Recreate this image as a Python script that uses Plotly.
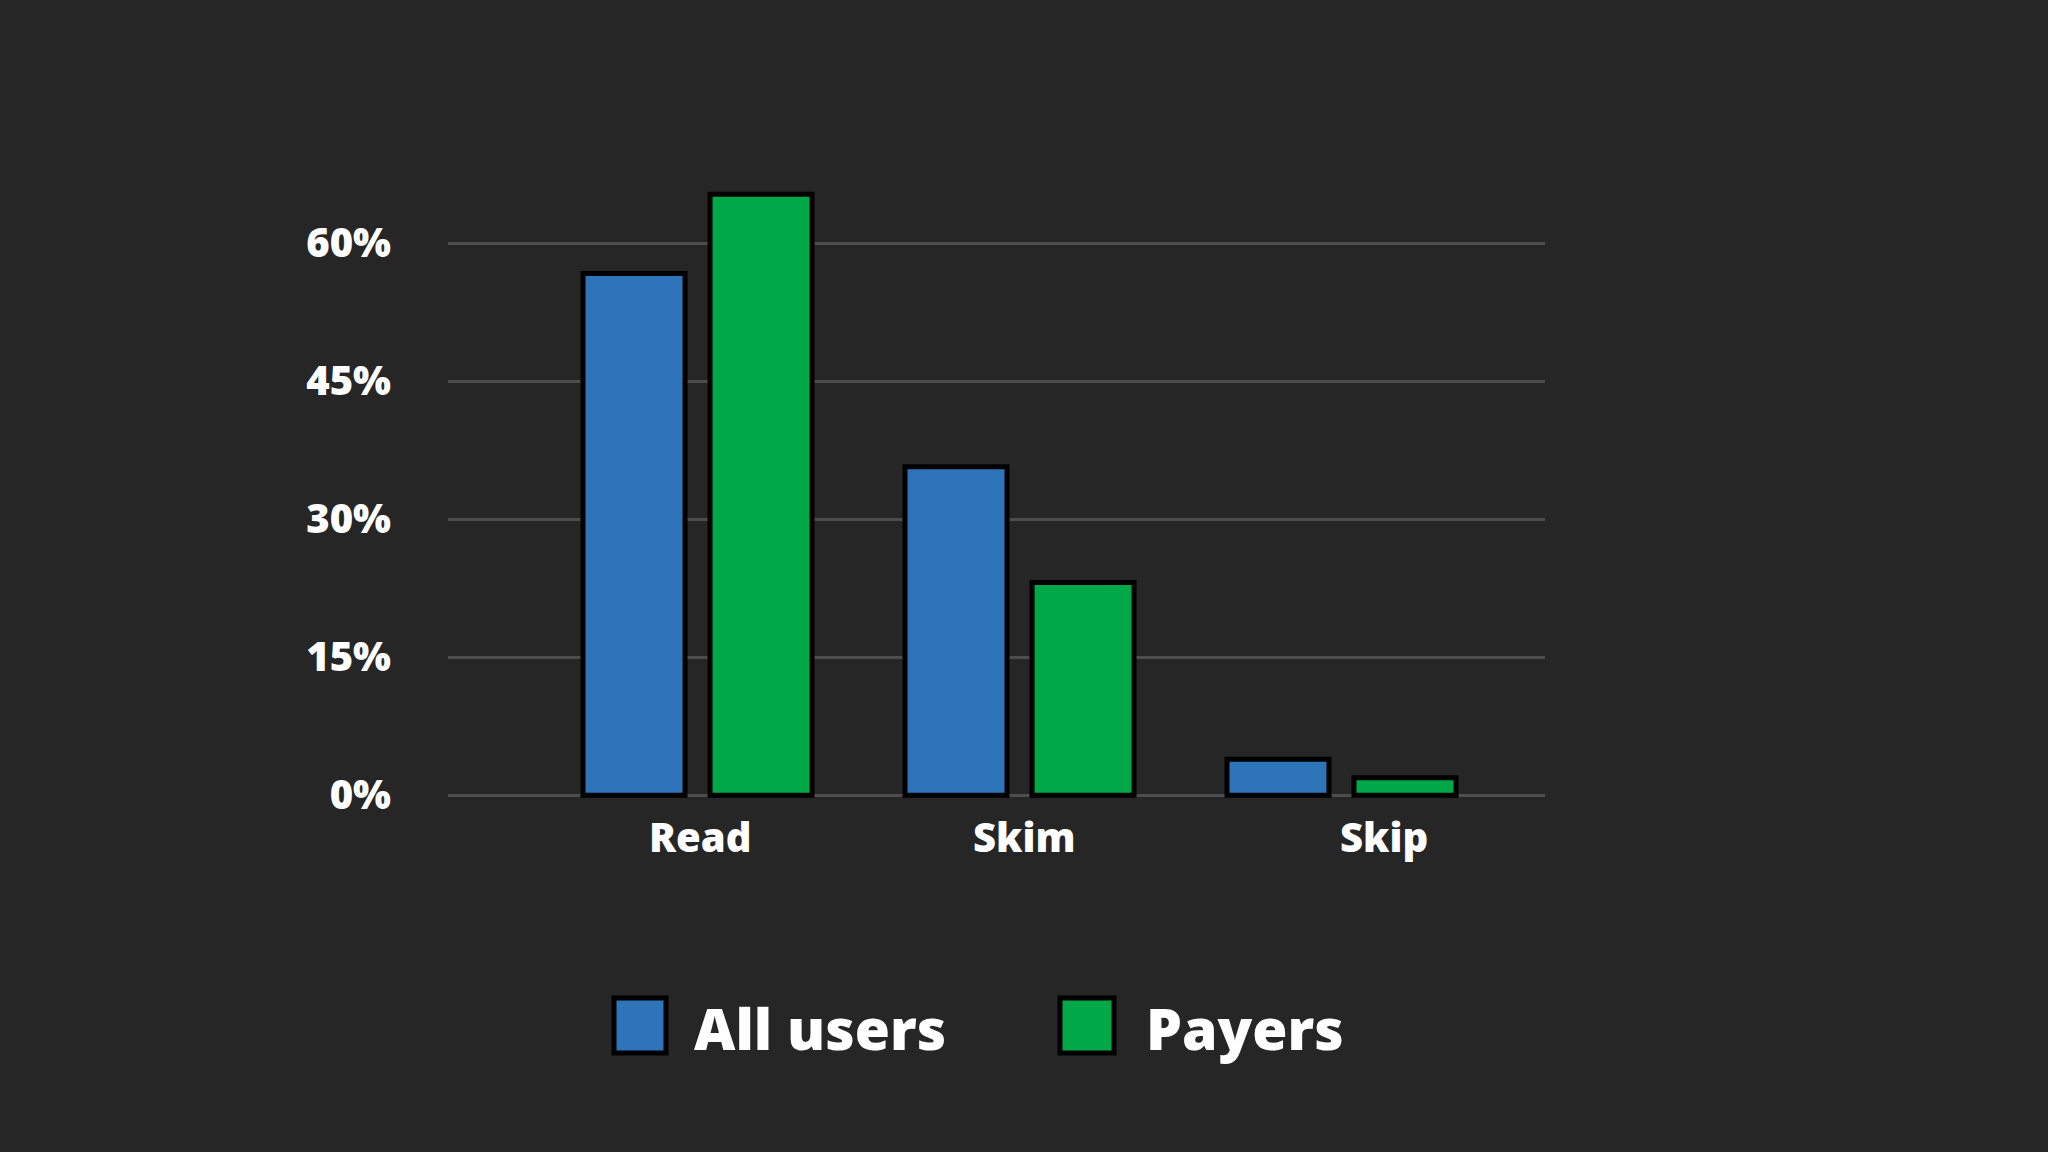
import plotly.graph_objects as go

categories = ["Read", "Skim", "Skip"]
all_users = [56.7, 35.7, 3.9]
payers = [65.3, 23.1, 1.9]
series_names = ["All users", "Payers"]
y_ticks = [0, 15, 30, 45, 60]
y_tick_labels = ["0%", "15%", "30%", "45%", "60%"]

BG = "#262627"
BLUE = "#2d74b8"
GREEN = "#00a847"
FONT = "Open Sans"

W, H = 2048, 1152
L, R, T, B = 448, 503, 151, 343
pw, ph = W - L - R, H - T - B

fig = go.Figure()
fig.add_trace(go.Bar(x=categories, y=all_users, name=series_names[0],
                     marker=dict(color=BLUE, line=dict(color="#000000", width=5)),
                     showlegend=False))
fig.add_trace(go.Bar(x=categories, y=payers, name=series_names[1],
                     marker=dict(color=GREEN, line=dict(color="#000000", width=5)),
                     showlegend=False))

# category labels
label_shift = [2, 4, 42]
for c, dx in zip(categories, label_shift):
    fig.add_annotation(x=c, xref="x", y=0, yref="y", yshift=-41, xshift=dx,
                       text=c, showarrow=False, xanchor="center", yanchor="middle",
                       font=dict(family=FONT, size=40, color="white", weight=800))

# custom legend
def px_x(p):
    return (p - L) / pw

def px_y(p):
    return (H - B - p) / ph

legend_items = [(series_names[0], BLUE, 614, 666, 692), (series_names[1], GREEN, 1060, 1114, 1144)]
for name, col, x0, x1, tx in legend_items:
    fig.add_shape(type="rect", xref="paper", yref="paper",
                  x0=px_x(x0), x1=px_x(x1), y0=px_y(1053), y1=px_y(998),
                  fillcolor=col, line=dict(color="#000000", width=5))
    fig.add_annotation(xref="paper", yref="paper", x=px_x(tx), y=px_y(1028),
                       text=name, showarrow=False, xanchor="left", yanchor="middle",
                       font=dict(family=FONT, size=57, color="white", weight=800))

fig.update_layout(
    width=W, height=H,
    margin=dict(l=L, r=R, t=T, b=B, autoexpand=False),
    paper_bgcolor=BG, plot_bgcolor=BG,
    barmode="group", bargap=0.211, bargroupgap=0.197,
    font=dict(family=FONT, color="white"),
)
fig.update_xaxes(range=[-0.775, 2.632], showticklabels=False, showgrid=False,
                 zeroline=False, showline=False, ticks="")
fig.update_yaxes(range=[-1.5, 70], tickvals=y_ticks, ticktext=y_tick_labels,
                 showgrid=True, gridcolor="#4d4d4d", gridwidth=3, zeroline=False,
                 showline=False, ticks="", ticklabelstandoff=56,
                 tickfont=dict(family=FONT, size=40, color="white", weight=800))

fig.write_html("out.html", config={"displayModeBar": False},
               post_script="document.body.style.margin='0';document.body.style.background='%s';" % BG)
